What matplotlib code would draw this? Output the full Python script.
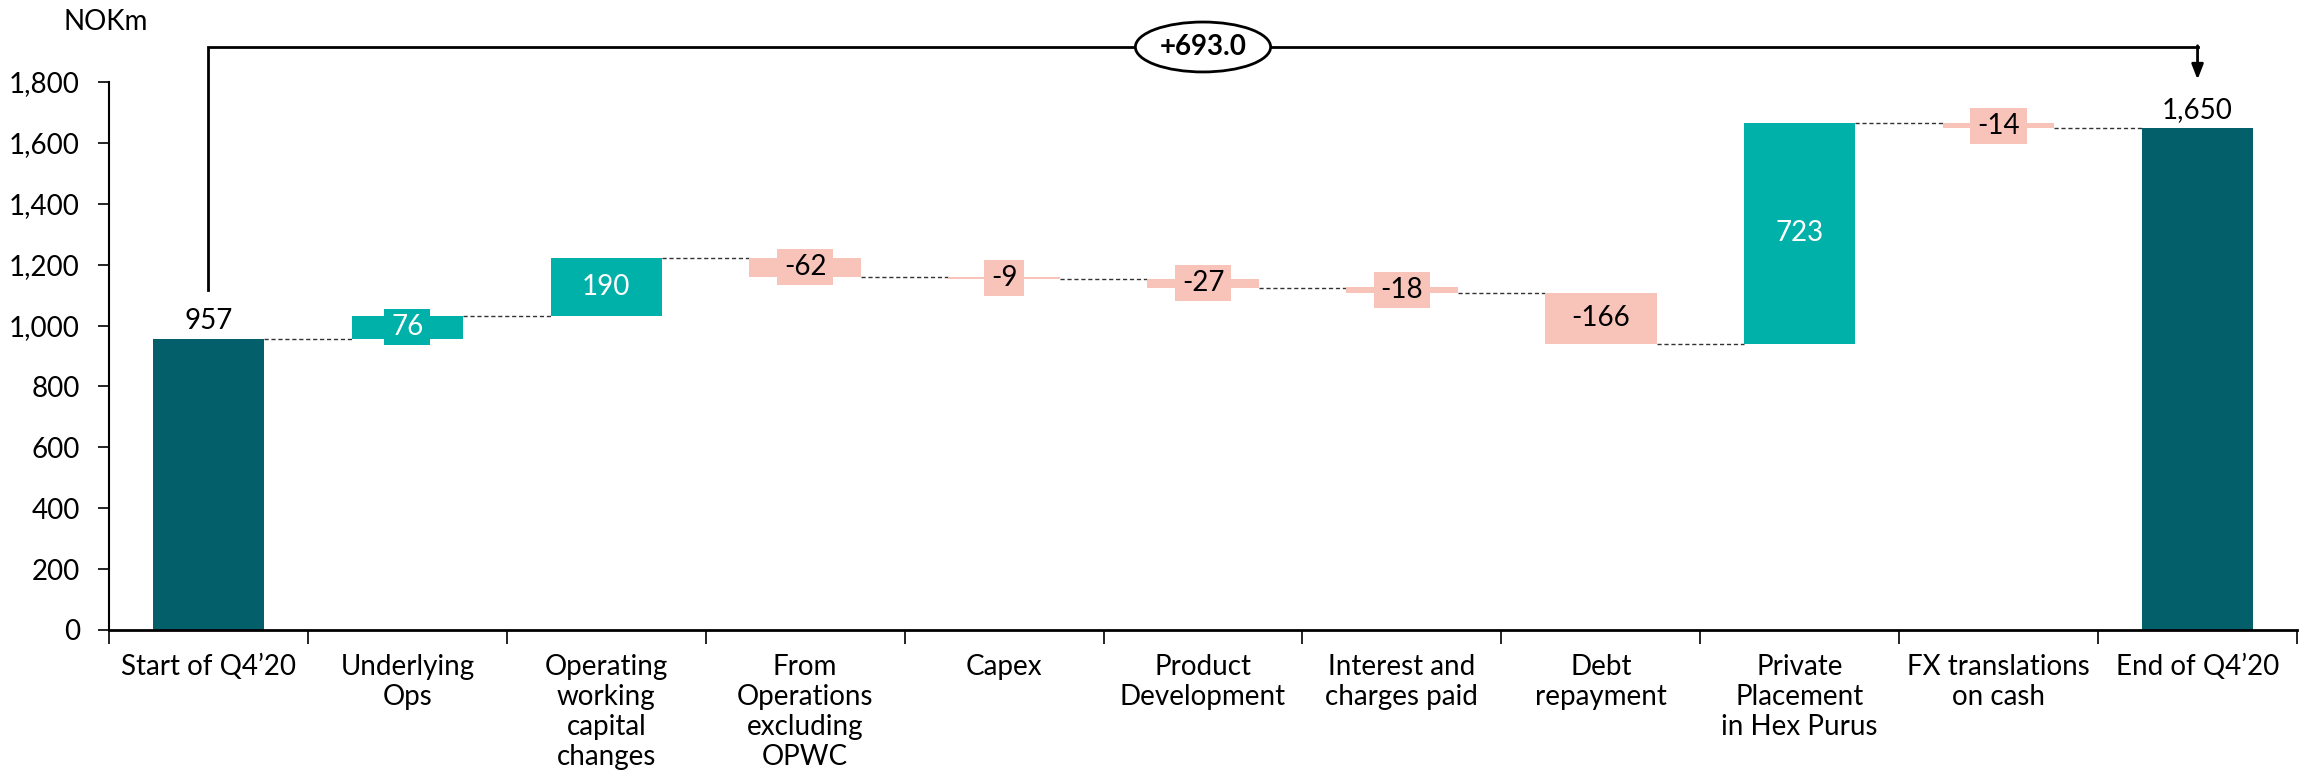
import matplotlib
matplotlib.use("Agg")
import matplotlib.pyplot as plt
from matplotlib.patches import Ellipse, Rectangle
from matplotlib.ticker import FuncFormatter, FixedLocator

plt.rcParams["font.family"] = ["Lato", "DejaVu Sans"]

# Cash bridge data (NOKm)
categories = [
    "Start of Q4\u201920", "Underlying\nOps", "Operating\nworking\ncapital\nchanges",
    "From\nOperations\nexcluding\nOPWC", "Capex", "Product\nDevelopment",
    "Interest and\ncharges paid", "Debt\nrepayment", "Private\nPlacement\nin Hex Purus",
    "FX translations\non cash", "End of Q4\u201920",
]
start_value = 957
changes = [76, 190, -62, -9, -27, -18, -166, 723, -14]
end_value = 1650
y_ticks = [0, 200, 400, 600, 800, 1000, 1200, 1400, 1600, 1800]

DARK = "#035F69"
UP = "#00B1AA"
DOWN = "#F8C3B9"
FS = 20

fig = plt.figure(figsize=(23.1, 7.82), dpi=100)
ax = fig.add_axes([109 / 2310, 1 - 630 / 782, (2297 - 109) / 2310, (630 - 82) / 782])

width = 0.56
n = len(categories)

# totals
ax.bar(0, start_value, width=width, color=DARK, zorder=2)
ax.bar(n - 1, end_value, width=width, color=DARK, zorder=2)
ax.text(0, start_value + 16, f"{start_value:,}", ha="center", va="bottom", fontsize=FS)
ax.text(n - 1, end_value + 16, f"{end_value:,}", ha="center", va="bottom", fontsize=FS)

# floating change bars
level = start_value
levels = [level]
value_labels = []
for i, c in enumerate(changes, start=1):
    bottom = level if c >= 0 else level + c
    color = UP if c >= 0 else DOWN
    ax.bar(i, abs(c), bottom=bottom, width=width, color=color, zorder=2)
    txt_color = "white" if c >= 0 else "black"
    t = ax.text(i, bottom + abs(c) / 2, f"{c:,}", ha="center", va="center",
                fontsize=FS, color=txt_color, zorder=4)
    value_labels.append((t, color, bottom + abs(c) / 2))
    level += c
    levels.append(level)

# dashed connectors between bars
for i, lv in enumerate(levels):
    ax.plot([i + width / 2, i + 1 - width / 2], [lv, lv], ls=(0, (3, 2)),
            color="#333333", lw=1.0, zorder=1)

# overall change bracket
top_y = 1915
ax.plot([0, 0, n - 1], [1117, top_y, top_y], color="black", lw=2, clip_on=False,
        solid_joinstyle="miter")
ax.annotate("", xy=(n - 1, 1808), xytext=(n - 1, top_y + 4),
            arrowprops=dict(arrowstyle="-|>,head_width=0.35,head_length=0.9",
                            color="black", lw=2, shrinkA=0, shrinkB=0),
            annotation_clip=False)
delta = end_value - start_value
ell = Ellipse(((n - 1) / 2, top_y), 0.68, 164, fc="white", ec="black", lw=2,
              clip_on=False, zorder=5)
ax.add_patch(ell)
ax.text((n - 1) / 2, top_y, f"+{delta:.1f}", ha="center", va="center",
        fontsize=FS, fontweight="bold", zorder=6)

# axes styling
ax.set_xlim(-0.5, n - 0.5)
ax.set_ylim(0, 1800)
ax.set_yticks(y_ticks)
ax.yaxis.set_major_formatter(FuncFormatter(lambda v, p: f"{int(v):,}"))
ax.set_xticks(range(n))
ax.set_xticklabels(categories, fontsize=FS, linespacing=1.2)
ax.xaxis.set_minor_locator(FixedLocator([i - 0.5 for i in range(n + 1)]))
ax.tick_params(axis="x", which="major", length=0, pad=17)
ax.tick_params(axis="x", which="minor", length=10, width=1.2, direction="out")
ax.tick_params(axis="y", length=8, width=1.2, labelsize=FS, pad=13)
for s in ["top", "right"]:
    ax.spines[s].set_visible(False)
ax.spines["left"].set_linewidth(1.5)
ax.spines["bottom"].set_linewidth(2)

fig.text(64 / 2310, 1 - 22 / 782, "NOKm", ha="left", va="center", fontsize=FS)

# label backgrounds sized from the rendered text (7 px side padding, 36 px tall)
fig.canvas.draw()
renderer = fig.canvas.get_renderer()
to_fig = fig.transFigure.inverted()
for t, color, yc in value_labels:
    bb = t.get_window_extent(renderer)
    cx, cy = ax.transData.transform((t.get_position()[0], yc))
    x0, y0 = to_fig.transform((bb.x0 - 7, cy - 18))
    x1, y1 = to_fig.transform((bb.x1 + 7, cy + 18))
    fig.add_artist(Rectangle((x0, y0), x1 - x0, y1 - y0, transform=fig.transFigure,
                             fc=color, ec="none", zorder=3))
    # keep the text above its box
    t.remove()
    fig.text(*to_fig.transform((cx, cy)), t.get_text(), ha="center", va="center",
             fontsize=FS, color=t.get_color(), zorder=4)

fig.savefig("out.png", dpi=100, facecolor="white")
